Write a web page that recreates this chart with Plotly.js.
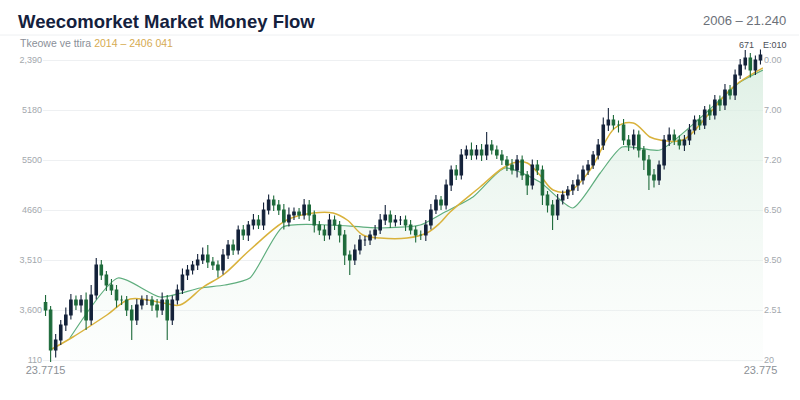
<!DOCTYPE html>
<html>
<head>
<meta charset="utf-8">
<script src="https://cdn.plot.ly/plotly-3.0.1.min.js"></script>
<style>
  html, body { margin: 0; padding: 0; background: #ffffff; }
  #chart { width: 800px; height: 400px; }
</style>
</head>
<body>
<div id="chart"></div>
<script>
// ---- Data ----
const firstOpen = 2150;
const closes = [
  2000,1200,1400,1700,1900,2200,2100,2200,1800,2300,
  2900,2700,2500,2400,2200,2200,2000,1800,2100,2200,
  2200,2100,2000,2200,1800,2200,2400,2700,2800,2900,
  3000,3100,2960,2900,2800,3100,3300,3200,3600,3500,
  3700,3800,3700,4000,4200,4100,4000,3760,3900,3960,
  3900,4100,3900,3700,3600,3500,3800,3700,3500,3100,
  3000,3200,3400,3400,3500,3600,3800,3900,3760,3800,
  3800,3700,3600,3500,3500,3700,4000,4200,4100,4500,
  4800,4700,5100,5200,5100,5200,5100,5300,5200,5100,
  5000,4900,4800,5000,4700,4500,4900,4800,4300,4100,
  3900,4200,4300,4400,4500,4600,4800,4900,5100,5300,
  5700,5800,5700,5700,5400,5300,5500,5200,5000,4700,
  4600,4900,5400,5500,5400,5300,5400,5600,5800,5700,
  6000,5900,6200,6100,6400,6300,6700,6900,7040,6800,
  7000,7100
];
const wickUp = [
  150,80,120,100,150,120,90,100,150,200,
  140,100,80,120,100,90,80,100,120,90,
  100,80,120,150,100,90,110,130,100,80,
  120,150,200,100,90,120,100,110,90,100,
  80,120,100,150,110,90,100,120,150,90,
  80,120,100,90,80,100,120,90,80,100,
  90,110,100,80,90,100,120,200,90,100,
  80,90,100,80,90,100,120,100,80,110,
  90,100,120,90,150,100,120,260,100,90,
  100,80,120,100,90,80,110,100,90,80,
  100,120,90,80,100,110,90,100,80,120,
  150,240,100,90,120,100,110,90,80,100,
  120,90,100,150,110,90,100,120,90,100,
  80,110,100,90,120,100,110,120,160,100,
  90,110
];
const wickDn = [
  120,250,150,100,120,90,100,150,200,100,
  90,100,120,100,150,100,120,400,100,90,
  100,120,150,100,400,100,90,80,100,90,
  100,80,120,100,150,90,80,100,90,100,
  120,90,80,100,90,120,100,150,90,100,
  80,90,120,150,100,120,90,100,150,200,
  300,100,90,120,100,90,80,100,120,90,
  100,120,90,150,100,120,90,80,100,90,
  120,100,90,80,100,90,120,100,90,80,
  100,120,90,150,100,200,90,100,200,150,
  300,100,90,80,100,120,90,100,80,90,
  100,120,90,150,100,120,90,150,200,300,
  150,100,90,120,100,90,120,100,90,100,
  80,100,90,120,100,90,100,80,90,150,
  100,90
];
// slow average (gold line): candle position, value
const slowX = [0.9,5.4,12.1,16.7,23.2,26.5,31.1,35,40.3,47.6,52.8,56.7,59.5,62.6,66,71.3,75.2,77.8,79.8,85.7,90.2,93,95,97.5,100.1,103.4,107.4,112.3,115.9,119.2,121.2,125.7,131,135.6,141.5];
const slowY = [1200,1460,1900,2220,2140,2100,2460,2700,3200,3800,3940,3940,3800,3500,3440,3440,3540,3740,3960,4460,4840,4960,4940,4700,4400,4380,4800,5640,5740,5460,5400,5400,5940,6460,6840];
// money-flow line (green line with area)
const flowX = [4.8,14.3,22.6,30.5,35.4,40.3,46.8,56.1,66,73.9,78.4,84.3,90.6,97.5,104,109.4,113.7,121.2,129.1,137,141.5];
const flowY = [1440,2640,2260,2440,2500,2640,3660,3700,3640,3700,3940,4260,4840,4560,4040,4740,5260,5200,5840,6560,6800];

const yTickVals = [1000,2000,3000,4000,5000,6000,7000];
const yLeftText = ["110","3,600","3,510","4660","5500","5180","2,390"];
const yRightText = ["20","2.51","9.50","6.50","7.20","7.00","0.00"];
const xTickText = ["23.7715","23.775"];

// ---- Build OHLC ----
const idx = closes.map((_, i) => i);
const opens = closes.map((c, i) => i === 0 ? firstOpen : closes[i - 1]);
const highs = closes.map((c, i) => Math.max(c, opens[i]) + wickUp[i]);
const lows = closes.map((c, i) => Math.min(c, opens[i]) - wickDn[i]);

const NAVY = "#14223a";
const GREEN = "#1d6a3a";

const traces = [
  {
    type: "scatter", mode: "lines", x: flowX, y: flowY,
    line: { color: "#5fae7e", width: 1.2, shape: "spline", smoothing: 0.6 },
    fill: "tozeroy",
    fillgradient: { type: "vertical",
      colorscale: [[0, "rgba(236,246,239,0)"], [1, "rgba(214,236,222,0.75)"]] },
    hoverinfo: "skip", showlegend: false
  },
  {
    type: "scatter", mode: "lines", x: slowX, y: slowY,
    line: { color: "#d9b23c", width: 1.5, shape: "spline", smoothing: 1 },
    hoverinfo: "skip", showlegend: false
  },
  {
    // candles live on the overlaying axis so they are drawn above the area fill
    type: "candlestick", x: idx, open: opens, high: highs, low: lows, close: closes,
    yaxis: "y2", width: 0.75,
    increasing: { line: { color: NAVY, width: 1.1 }, fillcolor: NAVY },
    decreasing: { line: { color: GREEN, width: 1.1 }, fillcolor: GREEN },
    whiskerwidth: 0, showlegend: false
  }
];

const paperX = px => (px - 43) / 720;
const paperY = py => (362 - py) / 317;

const layout = {
  width: 800, height: 400,
  margin: { l: 43, r: 37, t: 45, b: 38 },
  paper_bgcolor: "#ffffff", plot_bgcolor: "#ffffff",
  font: { family: "Liberation Sans, Arial, sans-serif", color: "#9aa0a6", size: 10 },
  title: {
    text: "Weecomorket Market Money Flow",
    font: { family: "Liberation Sans, Arial, sans-serif", size: 18.5, color: "#14213d", weight: 700 },
    x: 18 / 800, xanchor: "left", xref: "container",
    y: 1 - 22 / 400, yanchor: "middle", yref: "container"
  },
  xaxis: {
    range: [-0.5, 141.5], showgrid: false, zeroline: false, showline: false,
    tickvals: [0, 141], ticktext: xTickText, ticks: "",
    tickfont: { size: 11, color: "#8c9196" },
    rangeslider: { visible: false }, fixedrange: true
  },
  yaxis: {
    range: [960, 7300], tickvals: yTickVals, ticktext: yLeftText,
    showgrid: true, gridcolor: "#eef0f2", gridwidth: 1, zeroline: false,
    ticks: "", tickfont: { size: 9, color: "#a3a8ad" }, fixedrange: true
  },
  yaxis2: {
    range: [960, 7300], tickvals: yTickVals, ticktext: yRightText,
    overlaying: "y", side: "right", showgrid: false, zeroline: false,
    ticks: "", tickfont: { size: 9, color: "#a3a8ad" }, fixedrange: true
  },
  shapes: [
    { type: "line", xref: "paper", yref: "paper", x0: -0.06, x1: 1.05,
      y0: paperY(35), y1: paperY(35), line: { color: "#eef0f2", width: 1 } }
  ],
  annotations: [
    { xref: "paper", yref: "paper", x: paperX(18), y: paperY(43), xanchor: "left", yanchor: "middle",
      showarrow: false, font: { size: 10.5, color: "#8a8f98" },
      text: "Tkeowe ve ttira <span style='color:#d6ab52'>2014 – 2406 041</span>" },
    { xref: "paper", yref: "paper", x: paperX(788), y: paperY(20), xanchor: "right", yanchor: "middle",
      showarrow: false, font: { size: 13, color: "#6b7078" }, text: "2006 – 21.240" },
    { xref: "paper", yref: "paper", x: paperX(746), y: paperY(45), xanchor: "center", yanchor: "middle",
      showarrow: false, font: { size: 9, color: "#4a4f57" }, text: "671" },
    { xref: "paper", yref: "paper", x: paperX(775), y: paperY(45), xanchor: "center", yanchor: "middle",
      showarrow: false, font: { size: 9, color: "#4a4f57" }, text: "E:010" }
  ]
};

Plotly.newPlot("chart", traces, layout, { displayModeBar: false, staticPlot: true });
</script>
</body>
</html>
